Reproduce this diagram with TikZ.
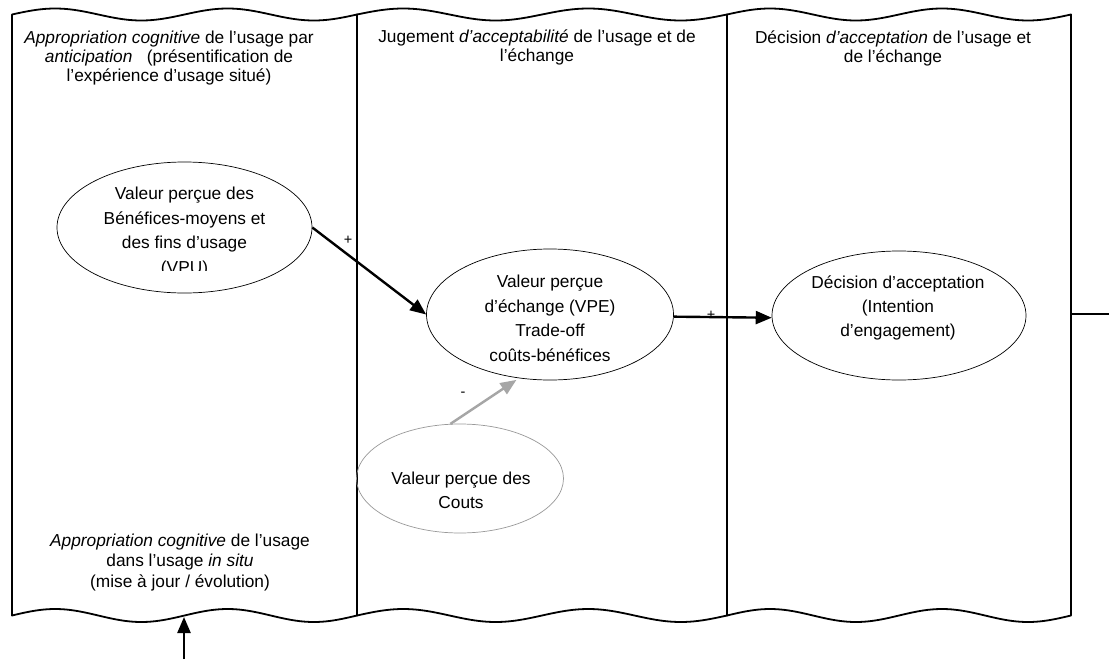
\documentclass[tikz,border=0pt]{standalone}
\usepackage{fontspec}
\setmainfont{Liberation Sans}
\usetikzlibrary{arrows.meta,shapes.geometric}
\definecolor{costgray}{HTML}{999999}
\definecolor{arrowgray}{HTML}{A6A6A6}
\begin{document}
\begin{tikzpicture}[x=1pt,y=-1pt,
  paneledge/.style={line width=1.8pt, line join=round},
  hdr/.style={align=center, font=\fontsize{17.3}{19}\selectfont, inner sep=0pt},
  btxt/.style={align=center, font=\fontsize{17.3}{20.5}\selectfont, inner sep=0pt},
  etext/.style={align=center, font=\fontsize{17.3}{24.4}\selectfont, inner sep=0pt},
  bubble/.style={ellipse, draw=black, line width=0.7pt, inner sep=0pt},
  costbubble/.style={ellipse, draw=costgray, line width=0.7pt, inner sep=0pt},
  conn/.style={line width=2.4pt, -{Triangle[length=16pt,width=13pt]}},
  gconn/.style={conn, draw=arrowgray},
  sign/.style={font=\fontsize{14.5}{14.5}\selectfont, inner sep=0pt}
]
\useasboundingbox (0,0) rectangle (1109,659);
\fill[white] (0,0) rectangle (1109,659);

% panels (punched tape shapes)
\draw[paneledge] plot[domain=12:357, samples=90] (\x, {14.5 - 6*sin(((\x-12)/345)*720)})
  -- plot[domain=357:12, samples=90] (\x, {615.5 - 6.5*sin(((\x-12)/345)*720)}) -- cycle;
\draw[paneledge] plot[domain=357:727, samples=90] (\x, {14.5 - 6*sin(((\x-357)/370)*720)})
  -- plot[domain=727:357, samples=90] (\x, {615.5 - 6.5*sin(((\x-357)/370)*720)}) -- cycle;
\draw[paneledge] plot[domain=727:1071, samples=90] (\x, {14.5 - 6*sin(((\x-727)/344)*720)})
  -- plot[domain=1071:727, samples=90] (\x, {615.5 - 6.5*sin(((\x-727)/344)*720)}) -- cycle;

% headers
\node[hdr] (hleft) at (169,58) {\itshape Appropriation cognitive\upshape{} de l’usage par\\
  \itshape anticipation\upshape~~~(présentification de\\ l’expérience d’usage situé)};
\node[hdr] (hmid) at (537,47.5) {Jugement \itshape d’acceptabilité\upshape{} de l’usage et de\\ l’échange};
\node[hdr] (hright) at (893,48.5) {Décision \itshape d’acceptation\upshape{} de l’usage et\\ de l’échange};
\node[btxt] (bleft) at (180,562.5) {\itshape Appropriation cognitive\upshape{} de l’usage\\
  dans l’usage \itshape in situ\upshape\\ (mise à jour / évolution)};

% ellipses
\node[bubble, minimum width=255pt, minimum height=131pt] (vpu) at (184.5,227.5) {};
\node[bubble, minimum width=247pt, minimum height=131pt] (vpe) at (550,314.5) {};
\node[bubble, minimum width=254pt, minimum height=129pt] (dec) at (899,315.5) {};
\node[costbubble, minimum width=207pt, minimum height=109pt] (costs) at (460,478.5) {};

\begin{scope}
  \clip (0,0) rectangle (1109,270.5);
  \node[etext] (vputxt) at (184.5,232) {Valeur perçue des\\ Bénéfices-moyens et\\ des fins d’usage\\ (VPU)};
\end{scope}
\node[etext] (vpetxt) at (550,318.4) {Valeur perçue\\ d’échange (VPE)\\ Trade-off\\ coûts-bénéfices};
\node[etext] (dectxt) at (898,308) {Décision d’acceptation\\ (Intention\\ d’engagement)};
\node[etext] (coststxt) at (461,490.5) {Valeur perçue des\\ Couts};

% connectors
\draw[conn] (vpu.east) -- (vpe.west);
\draw[conn] (vpe.-1.65) -- (dec.181.3);
\draw[gconn, shorten >=3pt] (costs.100) -- (vpe.244);

\coordinate (decexit) at (1071,314);
\coordinate (offpage) at (1109,314);
\draw[line width=2.4pt] (decexit) -- (offpage);

\coordinate (inlet) at (184,659);
\coordinate (tapebottom) at (184,617);
\draw[conn] (inlet) -- (tapebottom);

% signs
\node[sign] (plusa) at (348,240) {+};
\node[sign] (plusb) at (711,315) {+};
\node[sign] (minus) at (463,394) {-};
\end{tikzpicture}
\end{document}
